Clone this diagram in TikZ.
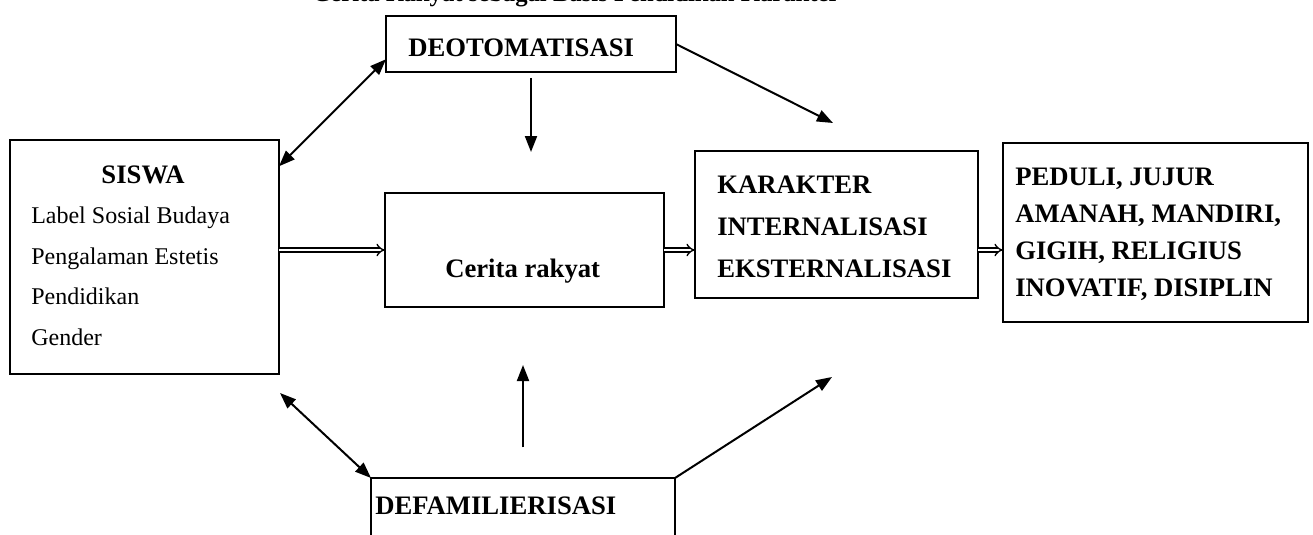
\documentclass[tikz,border=0pt]{standalone}
\usepackage{fontspec}
\setmainfont{Liberation Serif}
\usetikzlibrary{arrows.meta,calc}

\tikzset{
  box/.style={draw, line width=1.3pt, inner sep=0pt, outer sep=0pt},
  head/.style={font=\fontsize{20}{24}\selectfont\bfseries, inner sep=0pt},
  item/.style={font=\fontsize{18}{22}\selectfont, inner sep=0pt},
  arr/.style={line width=1.5pt, -{Triangle[length=12pt,width=9pt]}},
  biarr/.style={line width=1.5pt, {Triangle[length=12pt,width=9pt]}-{Triangle[length=12pt,width=9pt]}},
  dblarr/.style={double, double distance=2.2pt, line width=1pt, -{Implies}},
}

\begin{document}
\begin{tikzpicture}[x=0.75pt,y=-0.75pt]
\useasboundingbox (0,0) rectangle (1313,535);

% Title (cut off at the top)
\node[head, font=\fontsize{18.5}{22}\selectfont\bfseries, anchor=base] (judul) at (576,2) {Cerita Rakyat sebagai Basis Pendidikan Karakter};

% Boxes
\node[box, minimum width=201.75pt, minimum height=175.5pt] (siswa) at (144.5,257) {};
\node[box, minimum width=217.5pt, minimum height=42pt] (deoto) at (531,44) {};
\node[box, minimum width=209.25pt, minimum height=85.5pt] (cerita) at (524.5,250) {};
\node[box, minimum width=212.25pt, minimum height=110.25pt] (karakter) at (836.5,224.5) {};
\node[box, minimum width=228.75pt, minimum height=134.25pt] (peduli) at (1155.5,232.5) {};
\node[box, minimum width=228pt, minimum height=76.5pt] (defam) at (523,529) {};

% Texts
\node[head, anchor=base] (siswaT) at (143,183) {SISWA};
\foreach \txt [count=\i] in {Label Sosial Budaya, Pengalaman Estetis, Pendidikan, Gender}
  \node[item, anchor=base west] (siswa\i) at (31,{183+40.5*\i}) {\txt};

\node[head, anchor=base west] (deotoT) at (408,57) {DEOTOMATISASI};
\node[head, anchor=base west] (ceritaT) at (445,277) {Cerita rakyat};
\node[head, anchor=base west] (defamT) at (375,514) {DEFAMILIERISASI};

\foreach \txt [count=\i from 0] in {KARAKTER, INTERNALISASI, EKSTERNALISASI}
  \node[head, anchor=base west] (kar\i) at (717,{193+42*\i}) {\txt};

\foreach \txt [count=\i from 0] in {{PEDULI, JUJUR}, {AMANAH, MANDIRI,}, {GIGIH, RELIGIUS}, {INOVATIF, DISIPLIN}}
  \node[head, anchor=base west] (nilai\i) at (1015,{185+37.3*\i}) {\txt};

% Free arrow ends
\coordinate (deotoKar) at (833,123);
\coordinate (deotoCer) at (531,152);
\coordinate (defamCer) at (523,365);
\coordinate (defamKar) at (832,377);
\coordinate (siswaBawah) at (280,393);

% Arrows
\draw[biarr] (deoto.186) -- (siswa.34);
\draw[arr] (deoto.east) -- (deotoKar);
\draw[arr, shorten <=4.5pt] (deoto.south) -- (deotoCer);
\draw[arr, shorten <=23pt] (defam.north) -- (defamCer);
\draw[arr] (defam.north east) -- (defamKar);
\draw[biarr] (defam.north west) -- (siswaBawah);

% Double arrows
\draw[dblarr] (siswa.east |- cerita.west) -- (cerita.west);
\draw[dblarr] (cerita.east) -- (karakter.west |- cerita.east);
\draw[dblarr] (karakter.east |- cerita.east) -- (peduli.west |- cerita.east);
\end{tikzpicture}
\end{document}
